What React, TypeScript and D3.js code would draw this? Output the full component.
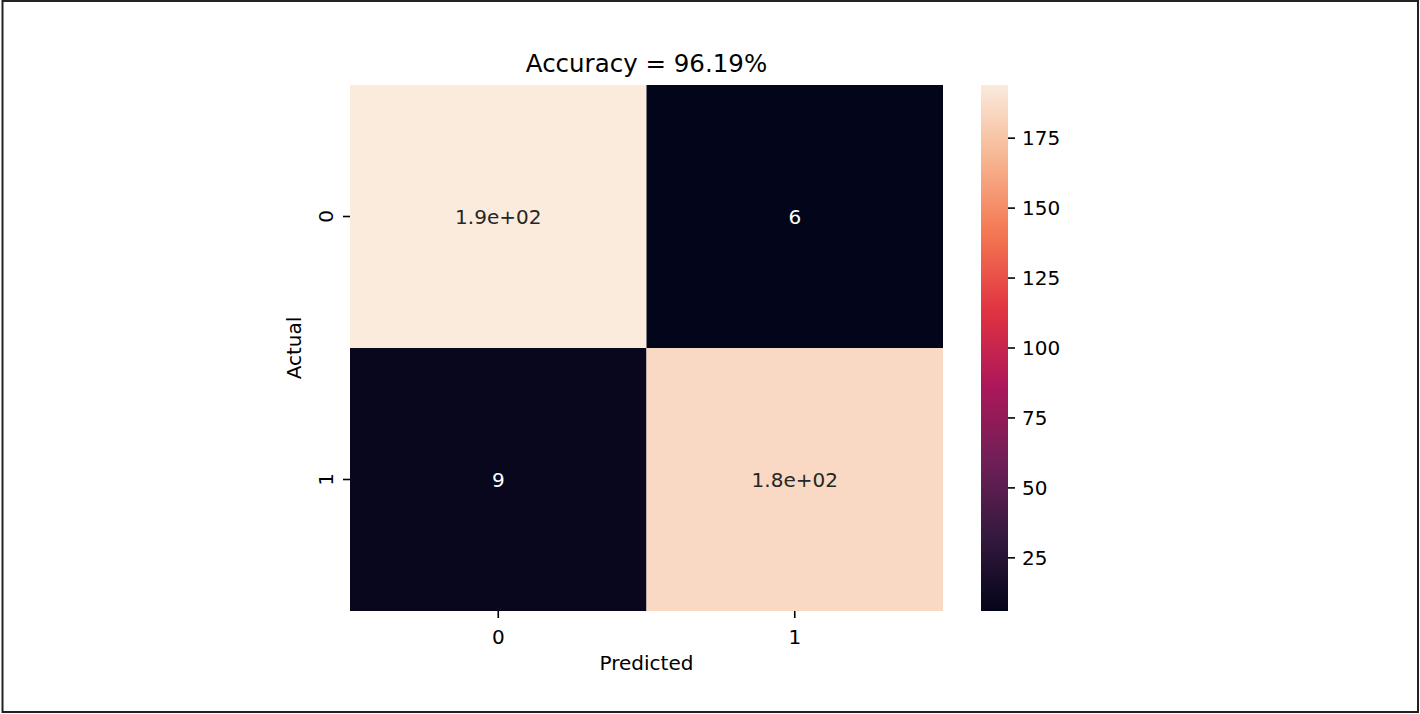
import React from "react";
import * as d3 from "d3";

const rowLabels = ["0", "1"];
const colLabels = ["0", "1"];
const matrixValues = [
  [194, 6],
  [9, 185],
];
const annotLabels = [
  ["1.9e+02", "6"],
  ["9", "1.8e+02"],
];
const colorbarTicks = [25, 50, 75, 100, 125, 150, 175];
const titleText = "Accuracy = 96.19%";
const xLabelText = "Predicted";
const yLabelText = "Actual";
const rocketStops = ["#03051a", "#35193e", "#701f57", "#ad1759", "#e13342", "#f37651", "#f6b48f", "#faebdd"];

const W = 1420;
const H = 714;
const FONT = "DejaVu Sans, sans-serif";

export default function App() {
  const left = 350, right = 943, top = 85, bottom = 611;
  const flat = matrixValues.flat();
  const vmin = d3.min(flat)!;
  const vmax = d3.max(flat)!;

  const x = d3.scaleBand<string>().domain(colLabels).range([left, right]).padding(0);
  const y = d3.scaleBand<string>().domain(rowLabels).range([top, bottom]).padding(0);

  const stopDomain = rocketStops.map((_, i) => vmin + (i / (rocketStops.length - 1)) * (vmax - vmin));
  const color = d3.scaleLinear<string>().domain(stopDomain).range(rocketStops).interpolate(d3.interpolateRgb);

  const cbX = 981, cbW = 27;
  const cbScale = d3.scaleLinear().domain([vmin, vmax]).range([bottom, top]);
  const gradStops = d3.range(0, 101).map((i) => {
    const v = vmin + (i / 100) * (vmax - vmin);
    return { offset: `${i}%`, color: color(v) };
  });

  const lum = (c: string) => {
    const rgb = d3.rgb(c);
    const f = (u: number) => {
      const s = u / 255;
      return s <= 0.03928 ? s / 12.92 : Math.pow((s + 0.055) / 1.055, 2.4);
    };
    return 0.2126 * f(rgb.r) + 0.7152 * f(rgb.g) + 0.0722 * f(rgb.b);
  };

  return (
    <svg width={W} height={H} style={{ position: "absolute", left: 0, top: 0, background: "#fff" }} fontFamily={FONT}>
      <rect x={0} y={0} width={W} height={H} fill="#fff" />
      <defs>
        <linearGradient id="cbgrad" x1="0" y1="1" x2="0" y2="0">
          {gradStops.map((s, i) => (
            <stop key={i} offset={s.offset} stopColor={s.color} />
          ))}
        </linearGradient>
      </defs>

      {matrixValues.map((row, ri) =>
        row.map((v, ci) => {
          const c = color(v);
          const tx = x(colLabels[ci])! + x.bandwidth() / 2;
          const ty = y(rowLabels[ri])! + y.bandwidth() / 2;
          return (
            <g key={`${ri}-${ci}`}>
              <rect x={x(colLabels[ci])!} y={y(rowLabels[ri])!} width={x.bandwidth()} height={y.bandwidth()} fill={c} />
              <text x={tx} y={ty + 7} textAnchor="middle" fontSize={20} fill={lum(c) > 0.408 ? "#262626" : "#ffffff"}>
                {annotLabels[ri][ci]}
              </text>
            </g>
          );
        })
      )}

      {/* x ticks */}
      {colLabels.map((c) => {
        const cx = x(c)! + x.bandwidth() / 2;
        return (
          <g key={`xt${c}`}>
            <line x1={cx} x2={cx} y1={bottom} y2={bottom + 7} stroke="#000" strokeWidth={1.6} />
            <text x={cx} y={bottom + 7 + 7 + 19} textAnchor="middle" fontSize={20} fill="#000">{c}</text>
          </g>
        );
      })}
      <text x={(left + right) / 2} y={670} textAnchor="middle" fontSize={20} fill="#000">{xLabelText}</text>

      {/* y ticks */}
      {rowLabels.map((r) => {
        const cy = y(r)! + y.bandwidth() / 2;
        return (
          <g key={`yt${r}`}>
            <line x1={left - 7} x2={left} y1={cy} y2={cy} stroke="#000" strokeWidth={1.6} />
            <text transform={`translate(${left - 7 - 7 - 3},${cy}) rotate(-90)`} textAnchor="middle" fontSize={20} fill="#000">{r}</text>
          </g>
        );
      })}
      <text transform={`translate(301,${(top + bottom) / 2}) rotate(-90)`} textAnchor="middle" fontSize={20} fill="#000">{yLabelText}</text>

      {/* title */}
      <text x={(left + right) / 2} y={72} textAnchor="middle" fontSize={24.5} fill="#000">{titleText}</text>

      {/* colorbar */}
      <rect x={cbX} y={top} width={cbW} height={bottom - top} fill="url(#cbgrad)" />
      {colorbarTicks.map((t) => {
        const ty = cbScale(t);
        return (
          <g key={`cb${t}`}>
            <line x1={cbX + cbW} x2={cbX + cbW + 7} y1={ty} y2={ty} stroke="#000" strokeWidth={1.6} />
            <text x={cbX + cbW + 14} y={ty + 7} fontSize={20} fill="#000">{t}</text>
          </g>
        );
      })}

      {/* frame border */}
      <rect x={2.5} y={1} width={1415.5} height={711} fill="none" stroke="#222" strokeWidth={2} />
    </svg>
  );
}
